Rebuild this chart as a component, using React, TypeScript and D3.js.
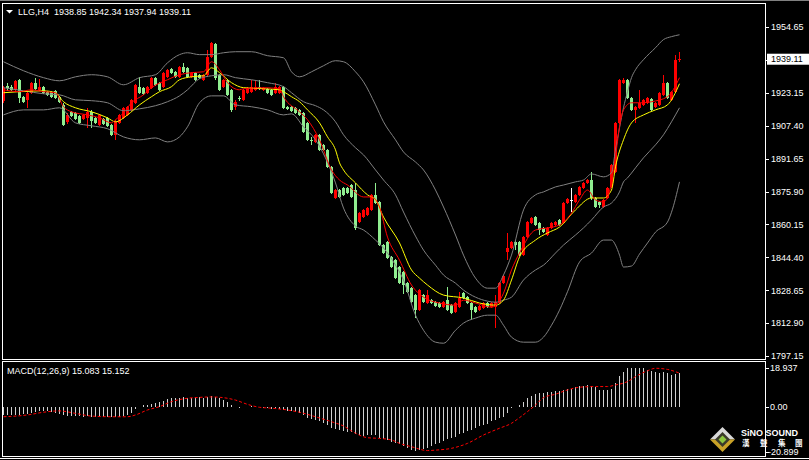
import { useEffect, useRef } from 'react'
import * as d3 from 'd3'

type Pt = [number, number]

const symbol = 'LLG,H4'
const lastQuote = [1938.85, 1942.34, 1937.94, 1939.11]

// o, h, l, c for each H4 bar, oldest first
const bars: number[][] = [
    [1919.3, 1926.4, 1918.3, 1925.5], [1926.4, 1927.9, 1924.0, 1925.5], [1926.0, 1926.9, 1924.0, 1924.5],
    [1924.5, 1929.3, 1923.6, 1928.8], [1929.3, 1929.8, 1918.3, 1920.7], [1921.2, 1921.6, 1918.3, 1918.8],
    [1919.7, 1923.6, 1915.9, 1923.1], [1923.1, 1928.3, 1922.6, 1927.9], [1927.9, 1930.3, 1924.5, 1925.0],
    [1924.5, 1929.8, 1924.0, 1926.0], [1926.0, 1926.4, 1922.6, 1923.1], [1923.6, 1924.0, 1921.6, 1922.1],
    [1923.6, 1924.0, 1920.7, 1921.2], [1924.0, 1924.5, 1920.2, 1920.7], [1921.2, 1921.6, 1918.3, 1918.8],
    [1917.3, 1918.3, 1907.3, 1907.8], [1909.2, 1913.5, 1908.2, 1912.5], [1914.0, 1914.5, 1911.6, 1912.1],
    [1913.5, 1914.0, 1910.2, 1910.6], [1912.1, 1912.5, 1908.2, 1908.7], [1910.6, 1913.0, 1910.2, 1912.5],
    [1911.1, 1915.9, 1906.3, 1914.0], [1914.0, 1914.9, 1906.3, 1909.7], [1911.1, 1911.6, 1908.2, 1908.7],
    [1907.8, 1913.0, 1907.3, 1912.5], [1910.6, 1911.1, 1907.8, 1908.2], [1911.1, 1911.6, 1906.8, 1907.3],
    [1907.8, 1908.2, 1902.5, 1903.0], [1903.0, 1910.2, 1900.6, 1909.2], [1908.7, 1913.0, 1908.2, 1912.5],
    [1911.1, 1916.4, 1910.6, 1915.9], [1912.5, 1916.9, 1912.1, 1916.4], [1914.9, 1920.2, 1914.5, 1919.7],
    [1918.3, 1927.4, 1917.8, 1926.9], [1926.0, 1930.7, 1922.6, 1923.1], [1925.5, 1926.0, 1922.1, 1922.6],
    [1923.1, 1926.4, 1922.6, 1926.0], [1925.5, 1930.7, 1925.0, 1930.3], [1930.3, 1930.7, 1926.4, 1926.9],
    [1927.9, 1928.3, 1924.0, 1924.5], [1926.0, 1933.1, 1925.5, 1932.7], [1930.7, 1934.6, 1930.3, 1934.1],
    [1934.6, 1935.0, 1932.2, 1932.7], [1933.1, 1933.6, 1930.3, 1930.7], [1930.7, 1936.0, 1930.3, 1935.5],
    [1935.5, 1937.4, 1932.7, 1933.1], [1935.0, 1935.5, 1930.3, 1930.7], [1930.7, 1933.1, 1930.3, 1932.7],
    [1932.7, 1933.1, 1928.8, 1929.3], [1931.7, 1932.2, 1929.8, 1930.3], [1929.3, 1932.2, 1928.8, 1931.7],
    [1931.7, 1943.7, 1930.7, 1940.3], [1940.3, 1947.5, 1939.8, 1947.0], [1946.5, 1947.0, 1929.3, 1930.3],
    [1931.7, 1932.2, 1924.0, 1924.5], [1926.0, 1929.8, 1925.5, 1929.3], [1929.3, 1929.8, 1921.6, 1922.1],
    [1924.5, 1925.0, 1914.0, 1914.9], [1916.4, 1919.7, 1914.9, 1918.8], [1920.7, 1921.6, 1919.3, 1920.2],
    [1919.7, 1925.0, 1919.3, 1924.5], [1923.1, 1926.0, 1922.6, 1925.5], [1923.6, 1929.3, 1923.1, 1926.0],
    [1924.5, 1929.3, 1924.0, 1926.0], [1926.0, 1929.3, 1924.5, 1925.0], [1924.5, 1926.0, 1924.0, 1925.5],
    [1925.0, 1925.5, 1922.6, 1923.1], [1924.5, 1925.0, 1921.6, 1922.1], [1923.1, 1927.9, 1922.6, 1926.0],
    [1923.1, 1926.4, 1922.6, 1926.0], [1926.0, 1926.4, 1915.4, 1915.9], [1916.4, 1916.9, 1914.9, 1915.4],
    [1916.4, 1916.9, 1914.0, 1914.5], [1915.9, 1916.4, 1913.0, 1913.5], [1914.9, 1915.4, 1912.1, 1912.5],
    [1913.5, 1914.0, 1903.9, 1904.4], [1908.7, 1909.2, 1900.1, 1900.6], [1900.6, 1902.0, 1898.2, 1900.1],
    [1899.6, 1903.5, 1899.1, 1903.0], [1903.0, 1903.5, 1895.3, 1895.8], [1898.2, 1898.7, 1895.3, 1895.8],
    [1895.8, 1896.3, 1887.2, 1887.7], [1887.7, 1888.2, 1874.7, 1875.2], [1872.8, 1877.1, 1872.3, 1876.6],
    [1876.6, 1877.1, 1872.8, 1873.3], [1877.6, 1878.1, 1873.8, 1874.3], [1877.6, 1878.1, 1874.7, 1875.2],
    [1879.0, 1879.5, 1872.8, 1873.3], [1876.6, 1879.9, 1857.5, 1858.5], [1861.3, 1866.1, 1860.8, 1865.6],
    [1863.7, 1867.6, 1863.2, 1867.1], [1864.7, 1868.5, 1864.2, 1868.0], [1867.1, 1874.8, 1866.6, 1874.3],
    [1874.3, 1880.0, 1869.9, 1870.4], [1870.9, 1871.4, 1849.8, 1850.3], [1850.3, 1850.8, 1846.0, 1846.5],
    [1851.8, 1852.3, 1843.6, 1844.1], [1844.6, 1845.1, 1839.3, 1839.8], [1843.1, 1843.6, 1834.0, 1834.5],
    [1839.8, 1840.3, 1831.6, 1832.1], [1837.4, 1837.9, 1826.9, 1831.2], [1832.1, 1832.6, 1827.3, 1827.8],
    [1829.7, 1830.2, 1822.5, 1823.0], [1826.4, 1826.9, 1815.4, 1819.2], [1819.2, 1829.3, 1818.7, 1828.8],
    [1826.4, 1826.9, 1822.5, 1823.0], [1822.6, 1828.8, 1822.1, 1826.4], [1824.0, 1824.5, 1822.1, 1822.6],
    [1823.0, 1823.5, 1820.6, 1821.1], [1822.6, 1823.1, 1820.1, 1820.6], [1820.6, 1823.5, 1820.1, 1823.0],
    [1824.0, 1830.2, 1818.7, 1819.2], [1821.6, 1822.1, 1817.3, 1817.8], [1818.2, 1823.1, 1817.7, 1822.6],
    [1820.6, 1827.8, 1820.1, 1824.9], [1827.3, 1827.8, 1824.4, 1824.9], [1825.4, 1825.9, 1822.1, 1822.6],
    [1822.6, 1823.1, 1814.4, 1819.2], [1820.6, 1821.1, 1817.7, 1818.2], [1819.2, 1821.6, 1818.7, 1821.1],
    [1820.2, 1823.1, 1819.7, 1822.6], [1822.6, 1823.1, 1820.1, 1820.6], [1820.6, 1823.1, 1820.1, 1822.6],
    [1820.6, 1826.4, 1810.6, 1823.0], [1822.6, 1832.6, 1822.1, 1832.1], [1832.1, 1836.0, 1831.6, 1835.5],
    [1847.0, 1856.1, 1843.1, 1848.9], [1848.9, 1852.3, 1848.4, 1851.8], [1851.8, 1852.8, 1847.9, 1850.3],
    [1851.8, 1852.3, 1845.0, 1845.5], [1845.5, 1854.6, 1845.0, 1854.1], [1854.1, 1861.8, 1853.6, 1861.3],
    [1860.8, 1863.7, 1860.3, 1863.2], [1863.7, 1864.2, 1859.4, 1859.9], [1860.8, 1861.3, 1855.1, 1857.5],
    [1858.5, 1859.0, 1856.0, 1856.5], [1855.1, 1859.0, 1854.6, 1858.5], [1858.5, 1861.3, 1858.0, 1860.8],
    [1859.9, 1861.8, 1859.4, 1861.3], [1862.3, 1862.8, 1859.4, 1859.9], [1860.8, 1870.9, 1860.3, 1870.4],
    [1870.4, 1872.8, 1869.9, 1872.3], [1871.9, 1877.6, 1866.1, 1871.9], [1870.9, 1874.8, 1870.4, 1874.3],
    [1874.3, 1878.6, 1873.8, 1878.1], [1877.6, 1880.5, 1877.1, 1880.0], [1880.0, 1881.9, 1879.5, 1881.4],
    [1881.4, 1885.3, 1871.9, 1872.8], [1872.8, 1873.3, 1868.0, 1868.5], [1870.9, 1871.4, 1868.0, 1869.5],
    [1868.5, 1872.3, 1868.0, 1871.9], [1872.8, 1878.1, 1872.3, 1877.6], [1878.1, 1889.1, 1877.6, 1888.6],
    [1885.3, 1909.2, 1884.8, 1908.7], [1908.7, 1929.8, 1908.2, 1929.3], [1927.9, 1930.3, 1927.4, 1929.3],
    [1929.3, 1929.8, 1920.2, 1920.7], [1920.7, 1921.2, 1914.5, 1914.9], [1914.9, 1916.9, 1908.7, 1916.4],
    [1915.9, 1924.5, 1915.4, 1918.3], [1917.3, 1920.2, 1916.9, 1919.7], [1918.3, 1921.2, 1917.8, 1920.7],
    [1920.2, 1920.7, 1914.5, 1914.9], [1916.4, 1918.8, 1915.9, 1918.3], [1917.3, 1923.6, 1916.9, 1923.1],
    [1922.1, 1931.7, 1921.6, 1927.9], [1927.9, 1928.3, 1920.2, 1920.7], [1919.7, 1924.0, 1919.3, 1923.6],
    [1923.6, 1941.0, 1923.1, 1938.9], [1938.85, 1942.34, 1937.94, 1939.11],
]

// bollinger bands (20) read at [bar, price]
const upperBand: Pt[] = [
    [0, 1937.9], [5, 1933.6], [10, 1930.3], [14, 1928.8], [18, 1930.7], [22, 1931.7], [26, 1930.7],
    [30, 1926.9], [34, 1930.3], [38, 1931.7], [41, 1937.4], [44, 1941.3], [46, 1942.2], [49, 1941.3],
    [52, 1941.3], [55, 1942.2], [58, 1942.7], [62, 1942.7], [66, 1940.8], [70, 1939.8], [72, 1933.1],
    [74, 1930.7], [77, 1933.1], [80, 1936.0], [83, 1938.4], [85, 1937.9], [88, 1933.1], [90, 1928.3],
    [93, 1917.3], [95, 1909.2], [98, 1900.6], [100, 1894.8], [103, 1890.0], [105, 1886.2], [108, 1876.6],
    [110, 1868.5], [113, 1855.1], [115, 1845.5], [118, 1834.5], [121, 1829.7], [123, 1829.7], [125, 1836.0],
    [127, 1845.5], [130, 1867.1], [133, 1874.3], [135, 1875.7], [138, 1878.1], [140, 1879.0], [143, 1880.5],
    [145, 1881.4], [147, 1884.3], [150, 1882.9], [152, 1884.8], [153, 1895.8], [154, 1906.3], [155, 1915.9],
    [156, 1923.6], [157, 1930.3], [158, 1934.1], [160, 1938.9], [163, 1944.6], [165, 1948.5], [167, 1949.9],
    [169, 1950.8],
]
const middleBand: Pt[] = [
    [0, 1925.5], [5, 1924.0], [10, 1922.6], [14, 1922.1], [18, 1919.7], [22, 1919.3], [26, 1918.3],
    [30, 1914.5], [34, 1915.4], [38, 1916.9], [41, 1918.8], [44, 1921.6], [46, 1924.5], [49, 1929.8],
    [52, 1931.2], [55, 1931.7], [58, 1930.3], [62, 1929.3], [66, 1927.9], [70, 1926.0], [72, 1923.1],
    [75, 1918.8], [78, 1916.9], [80, 1914.9], [83, 1909.2], [85, 1903.0], [88, 1896.8], [90, 1893.4],
    [93, 1886.2], [95, 1881.4], [98, 1874.3], [100, 1866.1], [103, 1854.6], [105, 1847.9], [108, 1840.7],
    [110, 1836.0], [113, 1832.1], [115, 1828.8], [118, 1825.4], [121, 1823.5], [123, 1823.0], [125, 1824.0],
    [127, 1825.4], [130, 1833.6], [133, 1838.4], [135, 1840.7], [138, 1846.5], [140, 1850.3], [143, 1855.1],
    [145, 1858.5], [147, 1862.3], [150, 1868.5], [152, 1870.4], [154, 1875.7], [155, 1880.5], [156, 1882.4],
    [158, 1887.2], [160, 1892.0], [163, 1898.2], [165, 1903.0], [167, 1909.2], [169, 1915.9],
]
const lowerBand: Pt[] = [
    [0, 1912.5], [5, 1914.9], [10, 1914.9], [14, 1915.9], [18, 1908.7], [22, 1907.3], [26, 1905.9],
    [30, 1902.0], [34, 1900.6], [38, 1901.5], [41, 1899.6], [44, 1902.0], [46, 1906.8], [49, 1918.3],
    [52, 1921.6], [55, 1921.6], [58, 1917.3], [62, 1916.4], [66, 1914.9], [70, 1912.5], [72, 1913.0],
    [75, 1906.8], [78, 1900.6], [80, 1893.9], [83, 1880.0], [85, 1868.0], [88, 1859.4], [90, 1857.5],
    [93, 1852.7], [95, 1848.9], [98, 1840.7], [100, 1833.6], [103, 1816.8], [105, 1809.6], [108, 1803.9],
    [110, 1803.4], [113, 1809.6], [115, 1813.0], [118, 1815.4], [121, 1816.8], [123, 1816.8], [125, 1812.0],
    [127, 1806.3], [130, 1803.9], [133, 1803.9], [135, 1806.3], [137, 1812.0], [139, 1819.2], [141, 1828.0],
    [144, 1842.2], [147, 1846.5], [150, 1852.7], [152, 1852.7], [153, 1850.3], [154, 1845.5], [155, 1839.8],
    [157, 1840.3], [159, 1846.0], [161, 1851.3], [163, 1856.5], [166, 1861.3], [167, 1866.0], [169, 1880.5],
]

// red and yellow moving averages
const fastMa: Pt[] = [
    [0, 1924.5], [4, 1923.6], [7, 1924.5], [10, 1923.6], [13, 1923.1], [15, 1916.4], [17, 1914.0],
    [21, 1912.5], [24, 1911.1], [27, 1908.7], [28, 1910.2], [30, 1913.5], [32, 1918.3], [35, 1922.1],
    [37, 1925.5], [41, 1929.3], [44, 1931.7], [47, 1932.7], [50, 1933.1], [52, 1937.9], [54, 1934.1],
    [56, 1927.9], [59, 1924.5], [60, 1925.0], [65, 1925.5], [69, 1925.0], [70, 1921.2], [74, 1914.0],
    [76, 1910.2], [79, 1900.6], [82, 1886.2], [84, 1881.4], [86, 1879.0], [90, 1873.3], [92, 1873.3],
    [94, 1868.5], [96, 1854.1], [99, 1843.1], [102, 1831.2], [105, 1825.4], [109, 1822.6], [113, 1821.6],
    [115, 1824.0], [118, 1822.6], [122, 1820.6], [125, 1827.3], [127, 1838.4], [129, 1846.5], [133, 1857.5],
    [136, 1858.5], [139, 1859.9], [142, 1865.6], [144, 1871.9], [146, 1876.6], [148, 1871.9], [150, 1870.9],
    [152, 1880.0], [153, 1892.4], [154, 1906.8], [155, 1914.9], [157, 1918.3], [160, 1918.3], [162, 1918.8],
    [166, 1921.2], [169, 1930.3],
]
const slowMa: Pt[] = [
    [0, 1923.1], [4, 1923.6], [10, 1924.0], [13, 1923.1], [15, 1918.8], [18, 1915.9], [22, 1914.0],
    [26, 1911.1], [28, 1909.2], [31, 1912.5], [34, 1917.3], [37, 1921.2], [39, 1923.6], [42, 1926.0],
    [44, 1929.3], [47, 1930.7], [50, 1931.2], [52, 1935.0], [54, 1932.7], [57, 1927.9], [60, 1925.5],
    [65, 1925.0], [69, 1924.5], [70, 1923.6], [72, 1921.2], [74, 1918.8], [76, 1914.9], [79, 1908.7],
    [81, 1902.0], [83, 1895.8], [84, 1889.6], [85, 1886.2], [88, 1880.0], [91, 1874.3], [93, 1871.9],
    [95, 1863.7], [99, 1851.3], [102, 1838.4], [104, 1834.5], [106, 1831.2], [110, 1826.4], [115, 1825.0],
    [119, 1822.6], [123, 1821.6], [125, 1824.0], [127, 1833.6], [129, 1844.6], [133, 1852.7], [136, 1856.1],
    [139, 1858.9], [143, 1867.1], [147, 1872.8], [150, 1872.8], [152, 1876.6], [153, 1887.7], [155, 1900.6],
    [157, 1908.7], [160, 1912.5], [163, 1914.9], [166, 1917.3], [169, 1927.4],
]

// MACD(12,26,9): main line as histogram, one value per bar
const macdHist = [
    -3.6, -3.6, -3.4, -3.3, -3.2, -3.0, -2.8, -2.4, -2.0, -1.6,
    -1.5, -1.8, -2.2, -2.6, -2.9, -3.6, -3.8, -3.9, -4.0, -4.0,
    -4.2, -4.0, -4.1, -4.2, -4.1, -4.3, -4.3, -4.5, -4.3, -4.1,
    -3.7, -3.2, -2.5, -0.8, 0.1, 0.8, 1.1, 1.6, 2.0, 2.4,
    3.0, 3.6, 3.9, 4.0, 4.3, 4.4, 4.3, 4.3, 4.4, 4.4,
    4.3, 4.5, 4.8, 4.5, 3.9, 3.2, 2.3, 1.0, 0.3, -0.1,
    0.3, 0.3, 0.4, 0.3, 0.2, -0.1, -0.4, -0.6, -0.5, -0.6,
    -1.2, -1.6, -1.8, -2.2, -2.7, -3.6, -4.6, -5.2, -5.7, -6.3,
    -7.0, -7.8, -9.0, -9.7, -10.2, -10.5, -10.8, -11.0, -12.0, -12.4,
    -12.6, -12.5, -12.2, -12.2, -13.5, -14.2, -14.6, -15.2, -15.8, -16.5,
    -17.2, -18.0, -18.8, -19.4, -18.8, -18.4, -17.9, -17.2, -16.5, -15.8,
    -14.9, -14.2, -13.5, -13.0, -12.0, -11.3, -10.6, -9.9, -9.2, -8.4,
    -8.0, -7.4, -6.3, -5.5, -4.8, -4.1, -2.6, -0.4, 0.3, 1.0,
    2.4, 3.9, 5.0, 6.1, 6.5, 6.5, 6.8, 6.8, 7.1, 7.1,
    7.8, 8.2, 8.2, 8.8, 9.3, 9.4, 10.0, 9.4, 9.0, 7.8,
    7.5, 7.5, 8.2, 10.6, 13.9, 15.8, 17.3, 17.3, 17.3, 17.3,
    17.3, 16.5, 16.1, 15.5, 15.1, 15.8, 15.1, 14.3, 14.6, 15.083,
]
const macdSignal: Pt[] = [
    [0, -4.2], [6, -3.4], [10, -2.2], [14, -1.6], [18, -2.7], [22, -3.9], [27, -4.2], [31, -4.2],
    [33, -3.4], [36, -1.2], [39, 0.3], [42, 2.5], [46, 4.0], [49, 4.4], [52, 4.6], [56, 4.0],
    [58, 3.2], [61, 1.3], [64, 0], [67, -0.4], [71, -1.2], [74, -2.2], [78, -4.2], [82, -6.4],
    [85, -8.3], [88, -11.5], [91, -13.5], [94, -13.8], [97, -14.5], [99, -16.0], [102, -17.5],
    [106, -19.2], [108, -19.0], [112, -18.2], [116, -16.0], [120, -12.3], [124, -9.3], [127, -7.1],
    [129, -4.6], [131, -1.9], [133, 1.0], [135, 4.3], [138, 5.8], [141, 7.7], [144, 8.9], [148, 9.2],
    [151, 9.2], [153, 9.9], [156, 11.4], [158, 13.6], [161, 16.2], [163, 17.3], [166, 16.8], [169, 15.152],
]
const macdLast = [15.083, 15.152]

const priceTicks = [1954.65, 1938.9, 1923.15, 1907.4, 1891.65, 1875.9, 1860.15, 1844.4, 1828.65, 1812.9, 1797.15]
const macdTicks = [18.937, 0, -20.899]

const W = 809
const H = 460
const FONT = "'Liberation Sans', Arial, sans-serif"

const App = () => {
    const ref = useRef<SVGSVGElement>(null)

    useEffect(() => {
        document.body.style.margin = '0'
        document.body.style.background = '#000'

        const svg = d3.select(ref.current)
        svg.selectAll('*').remove()

        const xs = d3.scaleLinear().domain([0, bars.length - 1]).range([3.5, 679.5])
        const yP = d3.scaleLinear().domain([1797.15, 1954.65]).range([356.3, 26.7])
        const yM = d3.scaleLinear().domain([-20.899, 18.937]).range([454.4, 364.6])

        const defs = svg.append('defs')
        defs.append('clipPath').attr('id', 'clip-main')
            .append('rect').attr('x', 3).attr('y', 4).attr('width', 762).attr('height', 355)
        defs.append('clipPath').attr('id', 'clip-macd')
            .append('rect').attr('x', 3).attr('y', 362).attr('width', 762).attr('height', 94)

        svg.append('rect').attr('width', W).attr('height', H).attr('fill', '#000')

        // frames
        svg.append('line').attr('x1', 0).attr('x2', W).attr('y1', 0.5).attr('y2', 0.5).attr('stroke', '#808080')
        const frames = svg.append('g').attr('fill', 'none').attr('stroke', '#fff').attr('shape-rendering', 'crispEdges')
        frames.append('rect').attr('x', 2.5).attr('y', 3.5).attr('width', 763).attr('height', 356)
        frames.append('rect').attr('x', 2.5).attr('y', 361.5).attr('width', 763).attr('height', 95)
        frames.append('line').attr('x1', 0).attr('x2', W).attr('y1', 458.5).attr('y2', 458.5)

        // main chart
        const main = svg.append('g').attr('clip-path', 'url(#clip-main)')
        const colorOf = (d: number[]) => (d[3] > d[0] ? '#ff0000' : d[3] < d[0] ? '#90ee90' : '#ffffff')

        main.append('g')
            .attr('shape-rendering', 'crispEdges')
            .selectAll('line')
            .data(bars)
            .join('line')
            .attr('x1', (d, i) => xs(i))
            .attr('x2', (d, i) => xs(i))
            .attr('y1', (d) => yP(d[1]))
            .attr('y2', (d) => yP(d[2]))
            .attr('stroke', colorOf)

        main.append('g')
            .attr('shape-rendering', 'crispEdges')
            .selectAll('rect')
            .data(bars)
            .join('rect')
            .attr('x', (d, i) => xs(i) - 1.5)
            .attr('width', 3)
            .attr('y', (d) => yP(Math.max(d[0], d[3])))
            .attr('height', (d) => Math.max(1, yP(Math.min(d[0], d[3])) - yP(Math.max(d[0], d[3]))))
            .attr('fill', colorOf)

        const priceLine = d3.line<Pt>().x((d) => xs(d[0])).y((d) => yP(d[1])).curve(d3.curveMonotoneX)
        const lines: [Pt[], string][] = [
            [upperBand, '#808080'],
            [middleBand, '#808080'],
            [lowerBand, '#808080'],
            [slowMa, '#ffff00'],
            [fastMa, '#ff0000'],
        ]
        lines.forEach(([data, color]) => {
            main.append('path')
                .attr('d', priceLine(data))
                .attr('fill', 'none')
                .attr('stroke', color)
                .attr('stroke-width', 1)
        })

        // header
        svg.append('path').attr('d', 'M6,10 L13,10 L9.5,13.5 Z').attr('fill', '#fff')
        svg.append('text').attr('x', 18).attr('y', 15).attr('fill', '#fff')
            .attr('font-family', FONT).attr('font-size', 9).text(symbol)
        svg.append('text').attr('x', 54).attr('y', 15).attr('fill', '#fff')
            .attr('font-family', FONT).attr('font-size', 9)
            .text(lastQuote.map((v) => v.toFixed(2)).join(' '))

        // price axis
        const axis = svg.append('g').attr('font-family', FONT).attr('font-size', 9).attr('fill', '#fff')
        priceTicks.forEach((t) => {
            const y = Math.round(yP(t)) + 0.5
            axis.append('line').attr('x1', 765).attr('x2', 769).attr('y1', y).attr('y2', y).attr('stroke', '#fff')
            axis.append('text').attr('x', 771).attr('y', yP(t)).attr('dy', '0.35em').text(t.toFixed(2))
        })
        const last = lastQuote[3]
        axis.append('rect').attr('x', 767).attr('y', yP(last) - 5.5).attr('width', 42).attr('height', 11).attr('fill', '#fff')
        axis.append('text').attr('x', 771).attr('y', yP(last)).attr('dy', '0.35em').attr('fill', '#000').text(last.toFixed(2))

        // MACD panel
        const macd = svg.append('g').attr('clip-path', 'url(#clip-macd)')
        macd.append('g')
            .attr('shape-rendering', 'crispEdges')
            .selectAll('line')
            .data(macdHist)
            .join('line')
            .attr('x1', (d, i) => xs(i))
            .attr('x2', (d, i) => xs(i))
            .attr('y1', yM(0))
            .attr('y2', (d) => yM(d))
            .attr('stroke', '#d0d0d0')

        const sigLine = d3.line<Pt>().x((d) => xs(d[0])).y((d) => yM(d[1])).curve(d3.curveMonotoneX)
        macd.append('path')
            .attr('d', sigLine(macdSignal))
            .attr('fill', 'none')
            .attr('stroke', '#ff0000')
            .attr('stroke-width', 1)
            .attr('stroke-dasharray', '3,2')

        svg.append('text').attr('x', 7).attr('y', 374).attr('fill', '#fff')
            .attr('font-family', FONT).attr('font-size', 9)
            .text(`MACD(12,26,9) ${macdLast[0].toFixed(3)} ${macdLast[1].toFixed(3)}`)

        // watermark
        const wm = svg.append('g')
        wm.append('path').attr('d', 'M722.5,427 L735,439.5 L710,439.5 Z').attr('fill', '#d9d9d9')
        wm.append('path').attr('d', 'M710,439.5 L735,439.5 L722.5,452 Z').attr('fill', '#c9a227')
        wm.append('path').attr('d', 'M722.5,432 L730,439.5 L722.5,447 L715,439.5 Z').attr('fill', '#3a3a2a')
        wm.append('path').attr('d', 'M722.5,435.5 L726.5,439.5 L722.5,443.5 L718.5,439.5 Z').attr('fill', '#8cc63f')
        wm.append('text').attr('x', 741).attr('y', 436).attr('fill', '#fff')
            .attr('font-family', FONT).attr('font-size', 9).attr('font-weight', 'bold').text('SiNO SOUND')
        wm.append('text').attr('x', '742 760 778 795').attr('y', 446).attr('fill', '#fff')
            .attr('font-family', "'Noto Sans CJK TC', sans-serif").attr('font-size', 7.5)
            .attr('font-weight', 'bold').text('漢聲集團')

        const maxis = svg.append('g').attr('font-family', FONT).attr('font-size', 9).attr('fill', '#fff')
        macdTicks.forEach((t) => {
            const y = Math.min(452, Math.max(368.3, yM(t)))
            maxis.append('line').attr('x1', 765).attr('x2', 769)
                .attr('y1', Math.round(y) + 0.5).attr('y2', Math.round(y) + 0.5).attr('stroke', '#fff')
            maxis.append('text').attr('x', t < 0 ? 768 : 770).attr('y', y).attr('dy', '0.35em')
                .text(t === 0 ? '0.00' : t.toFixed(3))
        })
    }, [])

    return <svg ref={ref} width={W} height={H} style={{ display: 'block', background: '#000' }} />
}

export default App
